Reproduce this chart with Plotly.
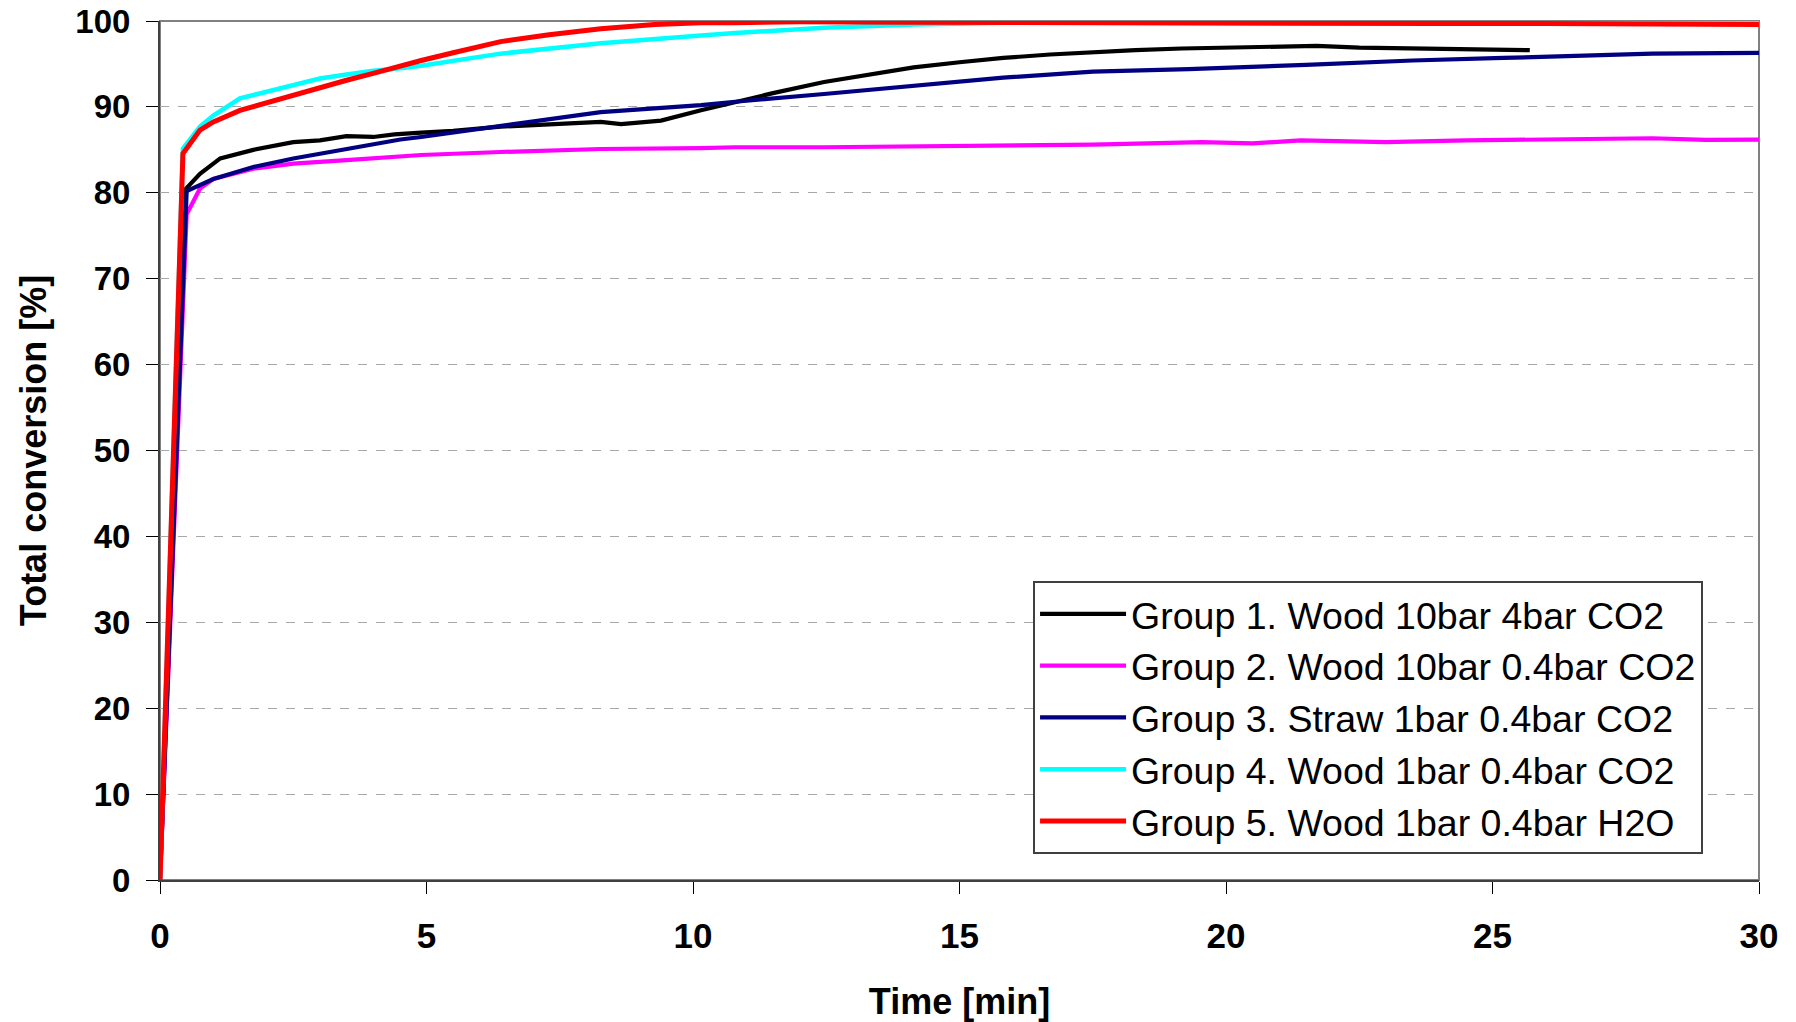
import plotly.graph_objects as go

# ---- data ----
g1_t = [0, 0.49, 0.75, 1.13, 1.75, 2.5, 3.0, 3.5, 4.0, 4.4, 4.9, 5.5, 6.39, 7.33, 8.27, 8.65, 9.4, 10.15,
        10.79, 11.5, 12.46, 13.3, 14.14, 15.0, 15.82, 16.7, 17.5, 18.3, 19.17, 20.0, 20.8, 21.7, 22.5,
        23.5, 24.5, 25.2, 25.7]
g1_y = [0, 80.5, 82.2, 84.0, 85.0, 85.9, 86.1, 86.6, 86.5, 86.8, 87.0, 87.2, 87.7, 88.0, 88.25, 88.0, 88.4,
        89.6, 90.6, 91.6, 92.9, 93.8, 94.6, 95.2, 95.7, 96.1, 96.4, 96.6, 96.8, 96.9, 96.9, 97.1, 96.9,
        96.8, 96.8, 96.7, 96.6]

g2_t = [0, 0.5, 0.75, 1.0, 1.75, 2.5, 3.5, 4.51, 4.9, 6.39, 8.27, 10.15, 10.79, 12.46, 14.14, 15.82,
        17.5, 19.55, 20.5, 21.4, 23.0, 24.5, 26.5, 28.0, 29.0, 30.0]
g2_y = [0, 77.5, 80.5, 81.6, 82.8, 83.4, 83.8, 84.2, 84.4, 84.75, 85.1, 85.2, 85.3, 85.3, 85.4, 85.5,
        85.6, 85.9, 85.75, 86.1, 85.9, 86.1, 86.2, 86.35, 86.15, 86.2]

g3_t = [0, 0.5, 1.0, 1.75, 2.5, 3.5, 4.51, 4.9, 6.39, 7.33, 8.27, 10.15, 10.79, 12.46, 14.14, 15.82,
        17.5, 19.3, 21.5, 23.5, 25.2, 26.7, 28.0, 30.0]
g3_y = [0, 80.2, 81.6, 83.0, 84.0, 85.1, 86.2, 86.5, 87.8, 88.6, 89.4, 90.2, 90.6, 91.5, 92.5, 93.4,
        94.1, 94.4, 94.9, 95.4, 95.7, 96.0, 96.2, 96.3]

g4_t = [0, 0.43, 0.75, 1.0, 1.5, 2.0, 2.5, 3.0, 3.5, 4.0, 4.51, 4.9, 6.39, 8.27, 10.15, 10.79, 12.46,
        14.14, 15.82, 17.5, 19.17, 21.43, 25.0, 30.0]
g4_y = [0, 85.15, 87.7, 89.0, 91.0, 91.8, 92.5, 93.3, 93.76, 94.2, 94.5, 94.8, 96.2, 97.4, 98.3, 98.6,
        99.2, 99.6, 99.8, 100.0, 100.1, 100.1, 100.1, 100.1]

g5_t = [0, 0.43, 0.75, 1.0, 1.5, 2.0, 2.5, 3.0, 3.5, 4.0, 4.51, 4.9, 5.5, 6.39, 7.3, 8.27, 9.28, 10.15,
        10.79, 12.0, 14.0, 16.0, 18.0, 20.0, 22.0, 24.0, 26.0, 28.0, 30.0]
g5_y = [0, 84.56, 87.3, 88.25, 89.6, 90.5, 91.35, 92.3, 93.1, 93.9, 94.8, 95.4, 96.3, 97.6, 98.4, 99.1,
        99.6, 99.8, 99.8, 99.9, 99.85, 99.8, 99.8, 99.75, 99.7, 99.7, 99.7, 99.65, 99.6]

names = ["Group 1. Wood 10bar 4bar CO2",
         "Group 2. Wood 10bar 0.4bar CO2",
         "Group 3. Straw 1bar 0.4bar CO2",
         "Group 4. Wood 1bar 0.4bar CO2",
         "Group 5. Wood 1bar 0.4bar H2O"]
colors = ["#000000", "#FF00FF", "#000080", "#00FFFF", "#FF0000"]
widths = [4.2, 4.2, 4.2, 4.5, 5]
series = [(g1_t, g1_y), (g2_t, g2_y), (g3_t, g3_y), (g4_t, g4_y), (g5_t, g5_y)]

x_ticks = [0, 5, 10, 15, 20, 25, 30]
y_ticks = [0, 10, 20, 30, 40, 50, 60, 70, 80, 90, 100]

FONT = "Liberation Sans, Arial, sans-serif"

fig = go.Figure()
for i, ((t, y), n, c, w) in enumerate(zip(series, names, colors, widths)):
    fig.add_trace(go.Scatter(x=t, y=y, mode="lines", name=n, legendgroup=f"g{i}",
                             line=dict(color=c, width=w)))

fig.update_layout(
    width=1796, height=1022,
    margin=dict(l=160, r=37, t=21, b=142, autoexpand=False),
    plot_bgcolor="white", paper_bgcolor="white",
    font=dict(family=FONT, color="black"),
    showlegend=True,
    legend=dict(x=0.546, y=0.348, xanchor="left", yanchor="top",
                bgcolor="white", bordercolor="#404040", borderwidth=2,
                font=dict(family=FONT, size=37.5, color="black"),
                tracegroupgap=9, itemwidth=86, traceorder="normal"),
    shapes=[dict(type="rect", xref="paper", yref="paper", x0=0, y0=0, x1=1, y1=1,
                 line=dict(color="#808080", width=2), layer="below")],
)

fig.update_xaxes(range=[0, 30], tickvals=x_ticks, ticks="outside", ticklen=12, tickwidth=1,
                 tickcolor="black", showline=True, linecolor="#404040", linewidth=2,
                 showgrid=False, zeroline=False, automargin=False,
                 ticklabelstandoff=12, ticklabeloverflow="allow",
                 tickfont=dict(family=FONT, size=35, weight="bold", color="black"),
                 title=dict(text="Time [min]", standoff=36,
                            font=dict(family=FONT, size=36, weight="bold", color="black")))
fig.update_yaxes(range=[0, 100], tickvals=y_ticks, ticks="outside", ticklen=12, tickwidth=1,
                 tickcolor="black", showline=True, linecolor="#404040", linewidth=2,
                 showgrid=True, gridcolor="#A8A8A8", griddash="dash", gridwidth=1,
                 zeroline=False, automargin=False,
                 ticklabelstandoff=9, ticklabeloverflow="allow",
                 tickfont=dict(family=FONT, size=33, weight="bold", color="black"),
                 title=dict(text="Total conversion [%]", standoff=18,
                            font=dict(family=FONT, size=36, weight="bold", color="black")))

fig.write_html("out.html",
               config={"displayModeBar": False},
               post_script="document.body.style.margin='0';document.body.style.overflow='hidden';")
